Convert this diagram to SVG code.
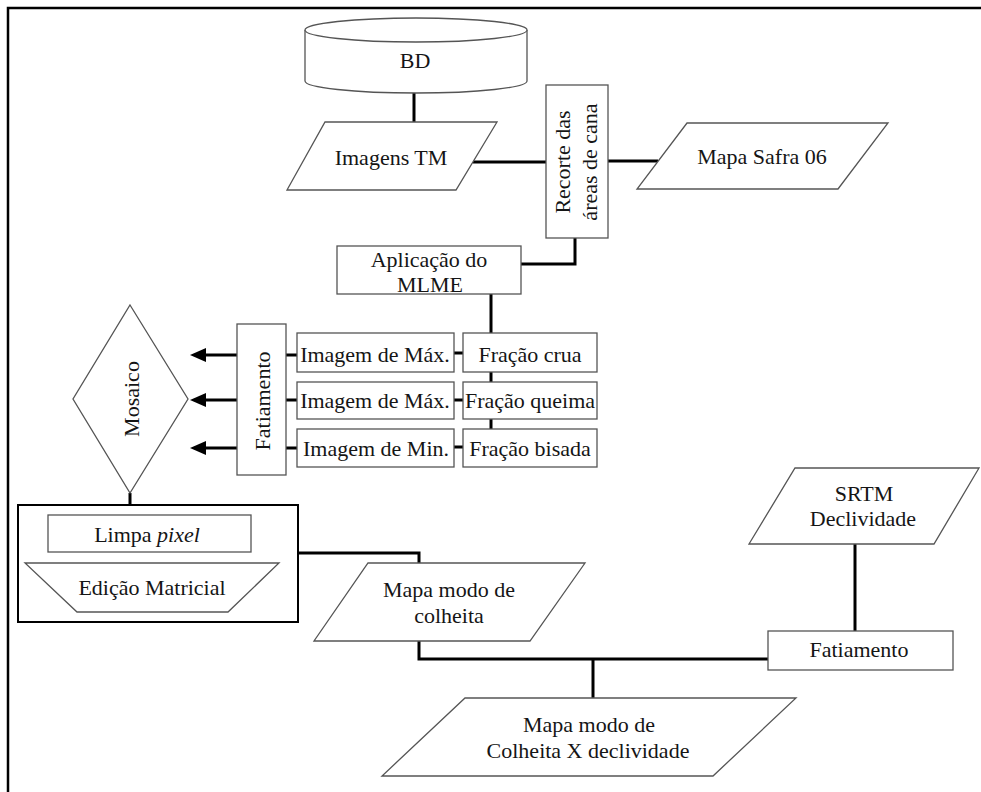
<svg xmlns="http://www.w3.org/2000/svg" width="981" height="792" viewBox="0 0 981 792">
<style>
.n{fill:#fff;stroke:#555;stroke-width:1.3}
.t{font-family:"Liberation Serif","Times New Roman",serif;font-size:22px;fill:#151515;text-anchor:middle}
.c{fill:none;stroke:#000;stroke-width:3}
</style>
<defs>
<marker id="arr" markerUnits="userSpaceOnUse" markerWidth="16" markerHeight="14" viewBox="0 0 16 14" refX="8" refY="7" orient="auto">
<path d="M0,0 L16,7 L0,14 z" fill="#000"/>
</marker>
</defs>
<rect width="981" height="792" fill="#fff"/>
<path d="M8,792 V8 H981" fill="none" stroke="#000" stroke-width="2.5"/>

<g id="connectors">
<path class="c" d="M414,93 V122"/>
<path class="c" d="M473,162 H546"/>
<path class="c" d="M608,161 H658"/>
<path class="c" d="M575,238 V264 H521"/>
<path class="c" d="M491,294 V333"/>
<path class="c" d="M491,372 V382"/>
<path class="c" d="M491,419 V429"/>
<path class="c" stroke-width="2" d="M454,353 H463 M454,400 H463 M454,447 H463"/>
<path class="c" stroke-width="2" d="M286,355 H297 M286,400 H297 M286,448 H297"/>
<path class="c" d="M237,355 H198" marker-end="url(#arr)"/>
<path class="c" d="M237,400 H198" marker-end="url(#arr)"/>
<path class="c" d="M237,448 H198" marker-end="url(#arr)"/>
<path class="c" d="M130,493 V505"/>
<path class="c" d="M298,553 H419 V563"/>
<path class="c" d="M419,641 V659 H768"/>
<path class="c" d="M855,544 V631"/>
<path class="c" d="M593,659 V698"/>
</g>

<g id="bd">
<path class="n" d="M305,30 V81 A111,12 0 0 0 527,81 V30"/>
<ellipse class="n" cx="416" cy="30" rx="111" ry="12"/>
<text class="t" x="415" y="68">BD</text>
</g>

<g id="imagens-tm">
<polygon class="n" points="325,122 497,122 456,190 287,190"/>
<text class="t" x="391" y="165">Imagens TM</text>
</g>

<g id="recorte">
<rect class="n" x="546" y="85" width="62" height="153"/>
<g transform="translate(577,162) rotate(-90)">
<text class="t" x="0" y="-7">Recorte das</text>
<text class="t" x="0" y="20">áreas de cana</text>
</g>
</g>

<g id="mapa-safra">
<polygon class="n" points="687,123 888,123 838,189 637,189"/>
<text class="t" x="762" y="164">Mapa Safra 06</text>
</g>

<g id="aplicacao">
<rect class="n" x="337" y="246" width="184" height="48"/>
<text class="t" x="429" y="267">Aplicação do</text>
<text class="t" x="430" y="292">MLME</text>
</g>

<g id="fracao-crua">
<rect class="n" x="463" y="333" width="134" height="39"/>
<text class="t" x="530" y="362">Fração crua</text>
</g>
<g id="fracao-queima">
<rect class="n" x="463" y="382" width="134" height="37"/>
<text class="t" x="530" y="408">Fração queima</text>
</g>
<g id="fracao-bisada">
<rect class="n" x="463" y="429" width="134" height="38"/>
<text class="t" x="530" y="456">Fração bisada</text>
</g>

<g id="imagem-max-1">
<rect class="n" x="297" y="333" width="157" height="39"/>
<text class="t" x="375" y="362">Imagem de Máx.</text>
</g>
<g id="imagem-max-2">
<rect class="n" x="297" y="382" width="157" height="37"/>
<text class="t" x="375" y="408">Imagem de Máx.</text>
</g>
<g id="imagem-min">
<rect class="n" x="297" y="429" width="157" height="38"/>
<text class="t" x="376" y="456">Imagem de Min.</text>
</g>

<g id="fatiamento-1">
<rect class="n" x="237" y="324" width="49" height="151"/>
<text class="t" transform="translate(270,401) rotate(-90)" x="0" y="0">Fatiamento</text>
</g>

<g id="mosaico">
<polygon class="n" points="130,305 188,399 130,493 73,399"/>
<text class="t" transform="translate(139,399) rotate(-90)" x="0" y="0">Mosaico</text>
</g>

<g id="edicao-box">
<rect x="18" y="505" width="280" height="117" fill="#fff" stroke="#000" stroke-width="2"/>
<g id="limpa-pixel">
<rect class="n" x="48" y="515" width="203" height="37"/>
<text class="t" x="147" y="542">Limpa <tspan font-style="italic">pixel</tspan></text>
</g>
<g id="edicao-matricial">
<polygon class="n" points="25,563 279,563 228,612 77,612"/>
<text class="t" x="152" y="595">Edição Matricial</text>
</g>
</g>

<g id="mapa-modo">
<polygon class="n" points="368,563 585,563 530,641 314,641"/>
<text class="t" x="449" y="597">Mapa modo de</text>
<text class="t" x="449" y="623">colheita</text>
</g>

<g id="srtm">
<polygon class="n" points="795,468 979,468 934,544 749,544"/>
<text class="t" x="864" y="501">SRTM</text>
<text class="t" x="863" y="526">Declividade</text>
</g>

<g id="fatiamento-2">
<rect class="n" x="768" y="631" width="185" height="39"/>
<text class="t" x="859" y="657">Fatiamento</text>
</g>

<g id="mapa-final">
<polygon class="n" points="465,698 796,698 713,776 382,776"/>
<text class="t" x="589" y="732">Mapa modo de</text>
<text class="t" x="588" y="758">Colheita X declividade</text>
</g>
</svg>
